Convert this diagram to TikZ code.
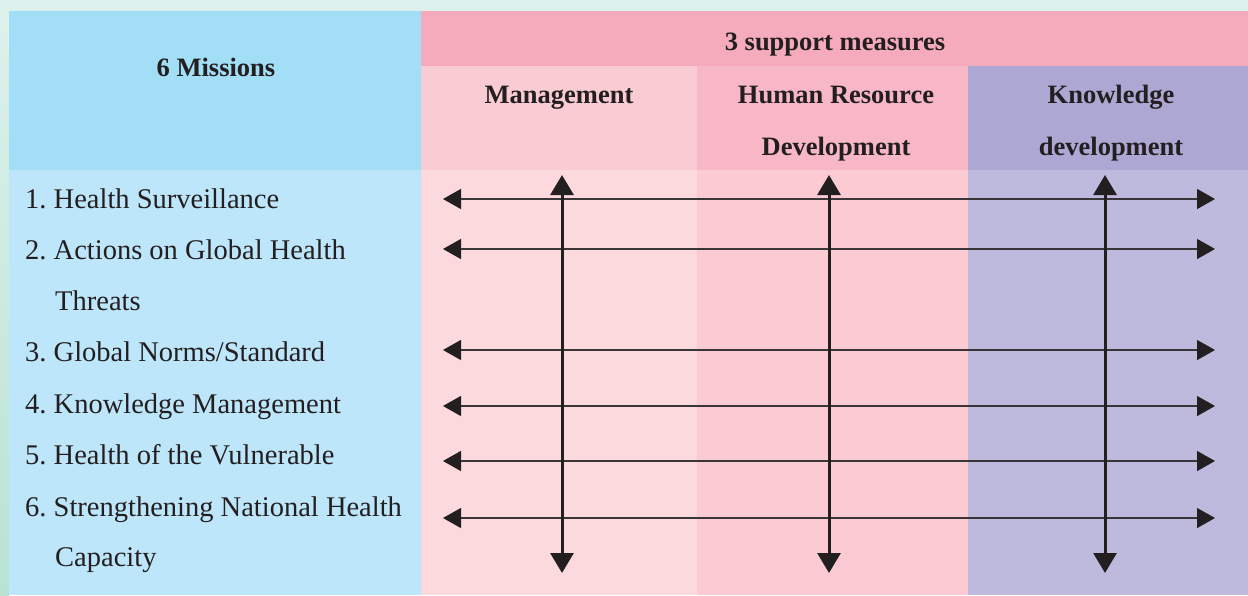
\documentclass[tikz,border=0pt]{standalone}
\usepackage{fontspec}
\setmainfont{Liberation Serif}
\usetikzlibrary{arrows.meta}
\definecolor{bgmint}{HTML}{DCF1EB}
\definecolor{bgmintdark}{HTML}{B9E2D4}
\definecolor{lefthead}{HTML}{A3DEF7}
\definecolor{leftbody}{HTML}{BDE6FA}
\definecolor{toppink}{HTML}{F5ABBB}
\definecolor{mghead}{HTML}{F9CBD3}
\definecolor{hrhead}{HTML}{F8B7C6}
\definecolor{knhead}{HTML}{ADA7D3}
\definecolor{mgbody}{HTML}{FCD9DD}
\definecolor{hrbody}{HTML}{FBCAD3}
\definecolor{knbody}{HTML}{BEBADD}
\definecolor{ink}{HTML}{231F20}
\definecolor{hline}{HTML}{3A3638}
\tikzset{
  headtxt/.style={anchor=base, inner sep=0pt, text=ink, font=\fontsize{26.5}{30}\selectfont\bfseries},
  bodytxt/.style={anchor=base west, inner sep=0pt, text=ink, font=\fontsize{28.5}{32}\selectfont},
  htip/.style={Triangle[length=18pt,width=20pt,color=ink,fill=ink,line width=0pt]},
  vtip/.style={Triangle[length=20pt,width=23pt,color=ink,fill=ink,line width=0pt]},
  harrow/.style={draw=hline, line width=1.3pt, {Triangle[length=18pt,width=20pt,color=ink,fill=ink]}-{Triangle[length=18pt,width=20pt,color=ink,fill=ink]}},
  varrow/.style={draw=ink, line width=3pt, {Triangle[length=20pt,width=23pt]}-{Triangle[length=20pt,width=23pt]}}
}
\begin{document}
\begin{tikzpicture}[x=1pt,y=-1pt]
\useasboundingbox (0,0) rectangle (1248,595);
% background
\fill[bgmint] (0,0) rectangle (1248,595);
\shade[top color=bgmint, bottom color=bgmintdark] (0,11) rectangle (9,595);
% left column
\fill[lefthead] (9,11) rectangle (421,170);
\fill[leftbody] (9,170) rectangle (421,595);
% support measures header
\fill[toppink] (421,11) rectangle (1248,66);
\fill[mghead] (421,66) rectangle (697,170);
\fill[hrhead] (697,66) rectangle (968,170);
\fill[knhead] (968,66) rectangle (1248,170);
\fill[mgbody] (421,170) rectangle (697,595);
\fill[hrbody] (697,170) rectangle (968,595);
\fill[knbody] (968,170) rectangle (1248,595);
% header texts
\node[headtxt] (missions) at (216,76) {6 Missions};
\node[headtxt] (support) at (835,50) {3 support measures};
\node[headtxt] (mgmt) at (559,103) {Management};
\node[headtxt] (hr1) at (836,103) {Human Resource};
\node[headtxt] (hr2) at (836,155) {Development};
\node[headtxt] (kn1) at (1111,103) {Knowledge};
\node[headtxt] (kn2) at (1111,155) {development};
% mission texts
\node[bodytxt] (m1) at (25,208) {1.\ Health Surveillance};
\node[bodytxt] (m2) at (25,259) {2.\ Actions on Global Health};
\node[bodytxt] (m2b) at (55,310) {Threats};
\node[bodytxt] (m3) at (25,361) {3.\ Global Norms/Standard};
\node[bodytxt] (m4) at (25,413) {4.\ Knowledge Management};
\node[bodytxt] (m5) at (25,464) {5.\ Health of the Vulnerable};
\node[bodytxt] (m6) at (25,516) {6.\ Strengthening National Health};
\node[bodytxt] (m6b) at (55,566) {Capacity};
% arrow end coordinates
\foreach \i/\y in {1/199,2/249,3/350,4/406,5/461,6/518}{
  \coordinate (hl\i) at (443,\y);
  \coordinate (hr\i) at (1215,\y);
}
\coordinate (vmt) at (562,175);
\coordinate (vmb) at (562,573);
\coordinate (vht) at (829,175);
\coordinate (vhb) at (829,573);
\coordinate (vkt) at (1105,175);
\coordinate (vkb) at (1105,573);
% horizontal arrows
\foreach \i in {1,...,6}{
  \draw[harrow] (hl\i) -- (hr\i);
}
% vertical arrows
\draw[varrow] (vmt) -- (vmb);
\draw[varrow] (vht) -- (vhb);
\draw[varrow] (vkt) -- (vkb);
\end{tikzpicture}
\end{document}
